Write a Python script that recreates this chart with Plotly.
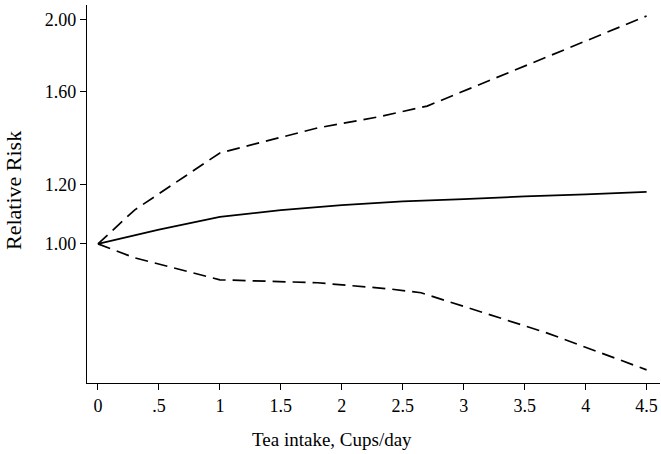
import math
import plotly.graph_objects as go

x_mid = [0, 0.5, 1, 1.5, 2, 2.5, 3, 3.5, 4, 4.5]
rr_mid = [1.0, 1.045, 1.087, 1.11, 1.127, 1.14, 1.148, 1.158, 1.165, 1.174]

x_upper = [0, 0.3, 1, 1.8, 2.3, 2.7, 3.68, 4.5]
rr_upper = [1.0, 1.11, 1.324, 1.43, 1.48, 1.53, 1.78, 2.02]

x_lower = [0, 0.3, 1, 1.8, 2.4, 2.65, 3.68, 4.5]
rr_lower = [1.0, 0.958, 0.895, 0.887, 0.870, 0.86, 0.76, 0.678]

x_ticks = [0, 0.5, 1, 1.5, 2, 2.5, 3, 3.5, 4, 4.5]
x_tick_labels = ["0", ".5", "1", "1.5", "2", "2.5", "3", "3.5", "4", "4.5"]
y_ticks = [1.0, 1.2, 1.6, 2.0]
y_tick_labels = ["1.00", "1.20", "1.60", "2.00"]

fig = go.Figure()
fig.add_trace(go.Scatter(x=x_upper, y=rr_upper, mode="lines",
                         line=dict(color="black", width=1.7, dash="13px,7px")))
fig.add_trace(go.Scatter(x=x_mid, y=rr_mid, mode="lines",
                         line=dict(color="black", width=1.7)))
fig.add_trace(go.Scatter(x=x_lower, y=rr_lower, mode="lines",
                         line=dict(color="black", width=1.7, dash="13px,7px")))

fig.update_layout(
    width=661, height=454,
    margin=dict(l=87, r=1, t=5, b=71, autoexpand=False),
    paper_bgcolor="white", plot_bgcolor="white",
    showlegend=False,
    font=dict(family="Liberation Serif", color="black", size=18),
    xaxis=dict(range=[-0.09, 4.61], tickvals=x_ticks, ticktext=x_tick_labels,
               showline=True, linecolor="black", linewidth=1.2, ticks="outside",
               ticklen=6, tickcolor="black", showgrid=False, zeroline=False,
               automargin=False, tickfont=dict(size=18)),
    yaxis=dict(type="log", range=[math.log10(0.651), math.log10(2.09)],
               tickvals=y_ticks, ticktext=y_tick_labels,
               showline=True, linecolor="black", linewidth=1.2, ticks="outside",
               ticklen=6, tickcolor="black", showgrid=False, zeroline=False,
               automargin=False, tickfont=dict(size=18)),
    annotations=[
        dict(text="Tea intake, Cups/day", xref="paper", yref="paper",
             x=(332 - 87) / 573, y=-(440 - 383) / 378, xanchor="center", yanchor="middle",
             showarrow=False, font=dict(size=19)),
        dict(text="Relative Risk", xref="paper", yref="paper",
             x=-(87 - 13) / 573, y=(383 - 191) / 378, xanchor="center", yanchor="middle",
             textangle=-90, showarrow=False, font=dict(size=22)),
    ],
)
fig.write_html("out.html", config={"displayModeBar": False},
               post_script="document.body.style.margin='0';document.body.style.overflow='hidden';")
